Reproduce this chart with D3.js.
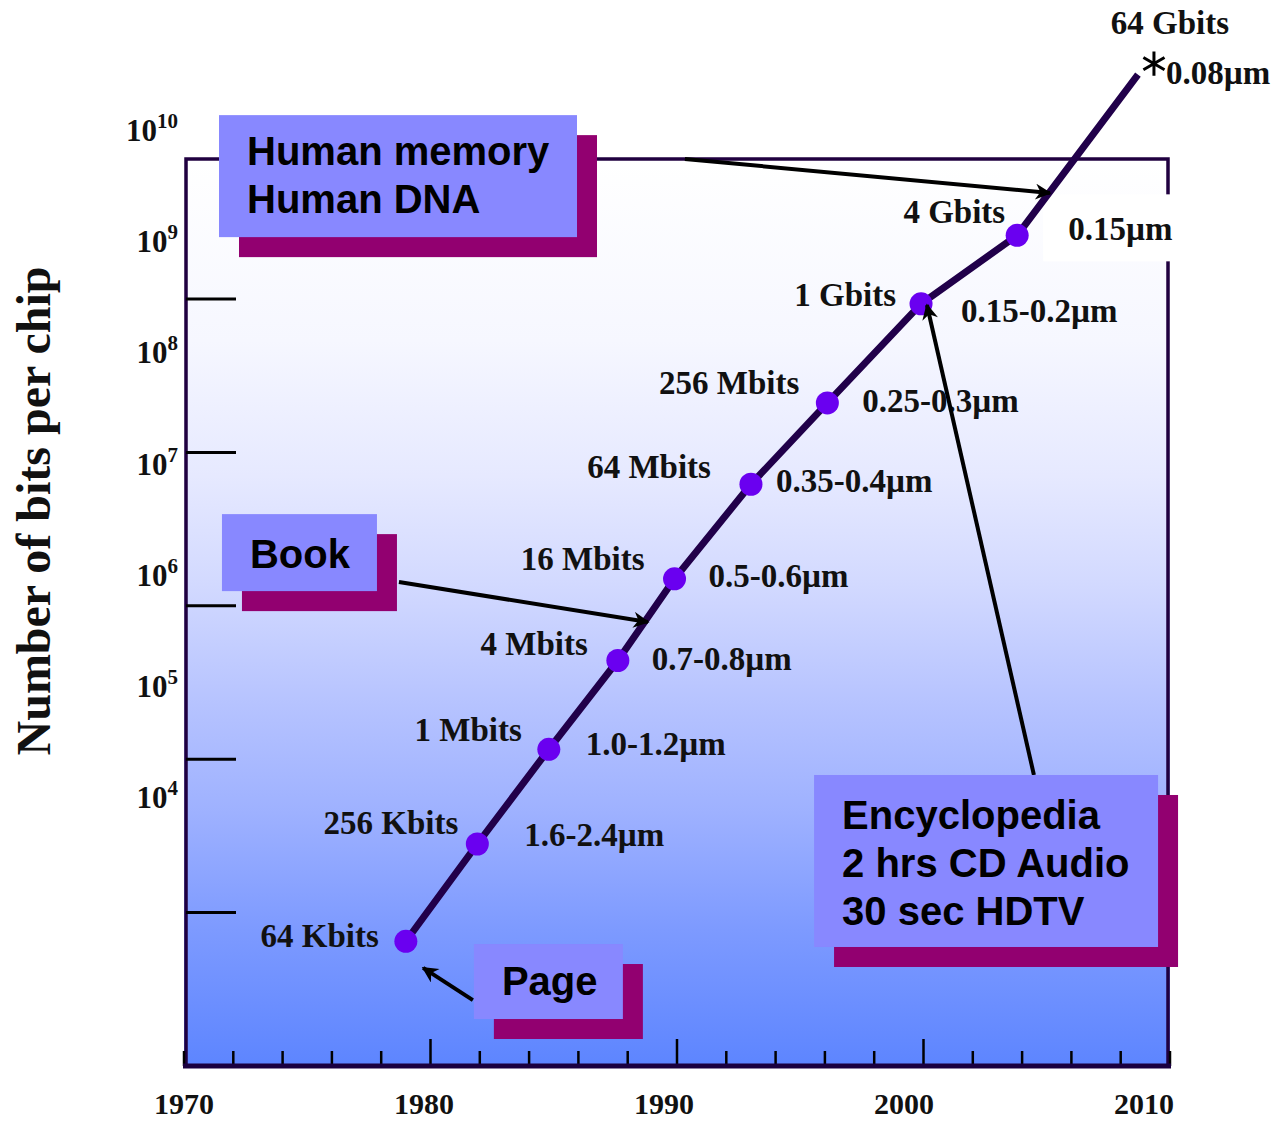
<!DOCTYPE html>
<html>
<head>
<meta charset="utf-8">
<script src="https://cdn.jsdelivr.net/npm/d3@7"></script>
<style>
  html, body { margin: 0; padding: 0; background: #ffffff; }
  svg { display: block; }
</style>
</head>
<body>
<svg id="chart" width="1273" height="1121"></svg>
<script>
// ---------- data ----------
const chipYears = [1979.0, 1981.9, 1984.8, 1987.6, 1989.9, 1993.0, 1996.1, 1999.9, 2003.8, 2008.7];
const chipBits = [6.5e4, 2.8e5, 1.16e6, 4.4e6, 1.5e7, 6.2e7, 2.1e8, 9.3e8, 2.6e9, 2.9e10];
const capacityLabels = ["64 Kbits", "256 Kbits", "1 Mbits", "4 Mbits", "16 Mbits", "64 Mbits", "256 Mbits", "1 Gbits", "4 Gbits", "64 Gbits"];
const featureLabels = ["", "1.6-2.4µm", "1.0-1.2µm", "0.7-0.8µm", "0.5-0.6µm", "0.35-0.4µm", "0.25-0.3µm", "0.15-0.2µm", "0.15µm", "0.08µm"];
const xTickYears = [1970, 1980, 1990, 2000, 2010];
const yLabelExponents = [4, 5, 6, 7, 8, 9, 10];
const yTickValues = [1e4, 1e5, 1e6, 1e7, 1e8, 1e9];

// annotation texts and where they point (year, bits)
const noteTexts = [["Human memory", "Human DNA"], ["Book"], ["Page"], ["Encyclopedia", "2 hrs CD Audio", "30 sec HDTV"]];
const noteAnchorYear = [1971.42, 1971.54, 1981.76, 1995.56];
const noteAnchorBits = [1.58e10, 3.96e7, 6.24e4, 7.89e5];
const arrowFromYear = [1990.32, 1978.72, 1981.72, 2004.48];
const arrowFromBits = [8.18e9, 1.43e7, 2.69e4, 7.89e5];
const arrowToYear = [2005.13, 1988.82, 1979.70, 2000.14];
const arrowToBits = [4.91e9, 7.83e6, 4.36e4, 9.14e8];

// ---------- layout ----------
const plot = { left: 184, right: 1170, top: 159, bottom: 1066 };
const svg = d3.select("#chart");

const x = d3.scaleLinear().domain([1970, 2010]).range([plot.left, plot.right]);
const xLabel = d3.scaleLinear().domain([1970, 2010]).range([184, 1144]);
const y = d3.scaleLog().domain([1e4, 1e10]).range([plot.bottom, plot.bottom - 6 * 153.4]);
const yLabel = d3.scaleLinear().domain([4, 10]).range([808, 141]);

// label offsets relative to each point (layout only)
const capOffsets = [[-27, 6], [-19, -10], [-27, -8], [-30, -5], [-30, -9], [-40, -6], [-28, -9], [-25, 2], [-12, -12], [32, -41]];
const featOffsets = [[0, 0], [47, 2], [37, 6], [34, 10], [34, 8], [25, 8], [35, 9], [40, 18], [51, 5], [28, 9]];
const noteSizes = [[358, 122], [155, 77], [149, 75], [344, 172]];
const noteLineGap = 48;
const noteFirstBaseline = [50, 54, 51, 54];

// ---------- defs ----------
const defs = svg.append("defs");
const grad = defs.append("linearGradient").attr("id", "bg").attr("x1", 0).attr("y1", 0).attr("x2", 0).attr("y2", 1);
[[0, "#ffffff"], [0.2, "#f6f7ff"], [0.35, "#e6e9ff"], [0.47, "#d2d9ff"], [0.6, "#b6c3ff"], [0.72, "#9eb1ff"], [0.85, "#7d9aff"], [1, "#5d85ff"]]
  .forEach(([o, c]) => grad.append("stop").attr("offset", o).attr("stop-color", c));

defs.append("marker").attr("id", "arrow")
  .attr("viewBox", "0 0 10 10").attr("refX", 9).attr("refY", 5)
  .attr("markerWidth", 20).attr("markerHeight", 16).attr("markerUnits", "userSpaceOnUse")
  .attr("orient", "auto")
  .append("path").attr("d", "M0,0 L10,5 L0,10 L3,5 Z").attr("fill", "#000");

// ---------- background ----------
svg.append("rect")
  .attr("x", plot.left).attr("y", plot.top)
  .attr("width", plot.right - plot.left).attr("height", plot.bottom - plot.top)
  .attr("fill", "url(#bg)");

// frame
const frameColor = "#200040";
svg.append("path")
  .attr("d", `M${plot.left + 2},${plot.bottom} V${plot.top} H${plot.right - 2} V${plot.bottom}`)
  .attr("fill", "none").attr("stroke", frameColor).attr("stroke-width", 3.5);

// y ticks
svg.append("g").selectAll("line").data(yTickValues).join("line")
  .attr("x1", plot.left + 2).attr("x2", plot.left + 52)
  .attr("y1", d => y(d)).attr("y2", d => y(d))
  .attr("stroke", "#000").attr("stroke-width", 3);

// x axis: minor ticks every 2 years, major ticks each decade
const minorYears = d3.range(1970, 2011, 2);
svg.append("g").selectAll("line").data(minorYears).join("line")
  .attr("x1", d => x(d)).attr("x2", d => x(d))
  .attr("y1", d => (d % 10 === 0 && d > 1970 && d < 2010) ? plot.bottom - 27 : plot.bottom - 15)
  .attr("y2", plot.bottom)
  .attr("stroke", "#000").attr("stroke-width", 2.5);
svg.append("line")
  .attr("x1", plot.left - 1).attr("x2", plot.right + 1)
  .attr("y1", plot.bottom).attr("y2", plot.bottom)
  .attr("stroke", "#1a0040").attr("stroke-width", 5);

const serif = "Liberation Serif, Times New Roman, serif";

// x tick labels
svg.append("g").selectAll("text").data(xTickYears).join("text")
  .attr("x", d => xLabel(d)).attr("y", 1114)
  .attr("text-anchor", "middle")
  .attr("font-family", serif)
  .attr("font-weight", "bold").attr("font-size", 30)
  .attr("fill", "#111")
  .text(d => d);

// y tick labels 10^n
const yl = svg.append("g").selectAll("text").data(yLabelExponents).join("text")
  .attr("x", 178).attr("y", d => yLabel(d))
  .attr("text-anchor", "end")
  .attr("font-family", serif)
  .attr("font-weight", "bold").attr("font-size", 31)
  .attr("fill", "#111");
yl.append("tspan").text("10");
yl.append("tspan").attr("dy", -13).attr("font-size", 21).text(d => d);

// y axis title
svg.append("text")
  .attr("transform", "translate(50,511) rotate(-90)")
  .attr("text-anchor", "middle")
  .attr("font-family", serif)
  .attr("font-weight", "bold").attr("font-size", 48)
  .attr("fill", "#111")
  .text("Number of bits per chip");

// ---------- data series ----------
const pts = chipYears.map((yr, i) => ({ yr, bits: chipBits[i], i }));

// white background behind the 0.15µm label
const bgIdx = 8;
svg.append("rect")
  .attr("x", x(chipYears[bgIdx]) + featOffsets[bgIdx][0] - 25)
  .attr("y", y(chipBits[bgIdx]) + featOffsets[bgIdx][1] - 46)
  .attr("width", 132).attr("height", 67)
  .attr("fill", "#ffffff");

svg.append("path")
  .datum(pts)
  .attr("d", d3.line().x(d => x(d.yr)).y(d => y(d.bits)))
  .attr("fill", "none").attr("stroke", "#21004a").attr("stroke-width", 7)
  .attr("stroke-linejoin", "round");

svg.append("g").selectAll("circle").data(pts.slice(0, 9)).join("circle")
  .attr("cx", d => x(d.yr)).attr("cy", d => y(d.bits))
  .attr("r", 11.5).attr("fill", "#6a00f0");

// 64 Gbits star
const last = pts[pts.length - 1];
svg.append("path")
  .attr("transform", `translate(${x(last.yr) + 16},${y(last.bits) - 11})`)
  .attr("d", d3.symbol().type(d3.symbolAsterisk).size(420)())
  .attr("fill", "none").attr("stroke", "#000").attr("stroke-width", 3);

svg.append("g").selectAll("text").data(pts).join("text")
  .attr("x", d => x(d.yr) + capOffsets[d.i][0])
  .attr("y", d => y(d.bits) + capOffsets[d.i][1])
  .attr("text-anchor", d => d.i === 9 ? "middle" : "end")
  .attr("font-family", serif).attr("font-weight", "bold").attr("font-size", 33)
  .attr("fill", "#111")
  .text(d => capacityLabels[d.i]);

svg.append("g").selectAll("text").data(pts.filter(d => featureLabels[d.i])).join("text")
  .attr("x", d => x(d.yr) + featOffsets[d.i][0])
  .attr("y", d => y(d.bits) + featOffsets[d.i][1])
  .attr("text-anchor", "start")
  .attr("font-family", serif).attr("font-weight", "bold").attr("font-size", 33)
  .attr("fill", "#111")
  .text(d => featureLabels[d.i]);

// ---------- annotations ----------
svg.append("g").selectAll("line").data(d3.range(4)).join("line")
  .attr("x1", i => x(arrowFromYear[i])).attr("y1", i => y(arrowFromBits[i]))
  .attr("x2", i => x(arrowToYear[i])).attr("y2", i => y(arrowToBits[i]))
  .attr("stroke", "#000").attr("stroke-width", 4)
  .attr("marker-end", "url(#arrow)");

const notes = svg.append("g").selectAll("g").data(d3.range(4)).join("g")
  .attr("transform", i => `translate(${x(noteAnchorYear[i])},${y(noteAnchorBits[i])})`);
notes.append("rect")
  .attr("x", 20).attr("y", 20)
  .attr("width", i => noteSizes[i][0]).attr("height", i => noteSizes[i][1])
  .attr("fill", "#920070");
notes.append("rect")
  .attr("width", i => noteSizes[i][0]).attr("height", i => noteSizes[i][1])
  .attr("fill", "#8888ff");
notes.each(function (i) {
  d3.select(this).selectAll("text").data(noteTexts[i]).join("text")
    .attr("x", 28)
    .attr("y", (t, k) => noteFirstBaseline[i] + k * noteLineGap)
    .attr("font-family", "Liberation Sans, Arial, sans-serif")
    .attr("font-weight", "bold").attr("font-size", 40)
    .attr("fill", "#000")
    .text(t => t);
});
</script>
</body>
</html>
